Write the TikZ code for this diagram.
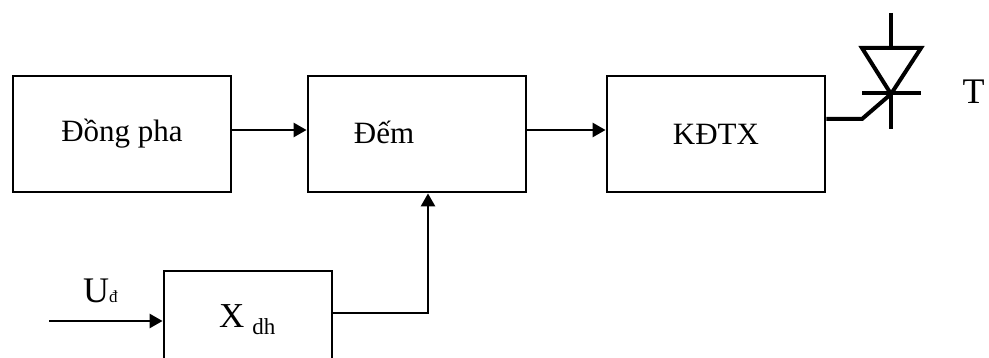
\documentclass[tikz,border=0pt]{standalone}
\usepackage{fontspec}
\setmainfont{Liberation Serif}
\usetikzlibrary{arrows.meta,calc}
\begin{document}
\begin{tikzpicture}[x=1pt,y=-1pt,
  blk/.style={draw,line width=2.8pt,minimum width=218pt,minimum height=116pt,inner sep=0pt,font=\fontsize{31}{36}\selectfont},
  conn/.style={line width=2.6pt,-{Triangle[length=13pt,width=14pt]}},
  thy/.style={line width=4pt},
  lbl/.style={inner sep=0pt,font=\fontsize{31}{36}\selectfont}]
\useasboundingbox (0,0) rectangle (989,358);
\clip (0,0) rectangle (989,358);
\node[blk] (dong) at (122,134) {Đồng pha};
\node[blk] (dem) at (417,134) {};
\node[lbl] (demtxt) at (384,132) {Đếm};
\node[blk] (kdtx) at (716,134) {KĐTX};
\node[blk, minimum width=168pt, minimum height=95pt] (xdh) at (248,318.5) {};
\node[lbl, anchor=base west, font=\fontsize{35}{40}\selectfont] (xtxt) at (219,328) {X\hspace{8pt}\raisebox{-6pt}{\fontsize{23}{26}\selectfont dh}};
\node[lbl, anchor=base west, font=\fontsize{36}{40}\selectfont] (ulbl) at (83,303) {U\fontsize{17}{20}\selectfont đ};
\coordinate (uin) at (49,321);
\coordinate (demin) at ([xshift=11pt]dem.south);
\draw[conn] ([yshift=4pt]dong.east) -- ([yshift=4pt]dem.west);
\draw[conn] ([yshift=4pt]dem.east) -- ([yshift=4pt]kdtx.west);
\draw[conn] (uin) -- (uin -| xdh.west);
\draw[conn] ([yshift=5.5pt]xdh.east) -| (demin);
% thyristor
\coordinate (A) at (891,13);
\coordinate (Atop) at (891,48);
\coordinate (K) at (891,94);
\coordinate (Kend) at (891,129);
\coordinate (TL) at (862,48);
\coordinate (TR) at (921,48);
\coordinate (BL) at (862,93);
\coordinate (BR) at (921,93);
\coordinate (G) at (862,119);
\draw[thy] (A) -- (Atop);
\draw[thy] (TL) -- (TR) -- (K) -- cycle;
\draw[thy] (BL) -- (BR);
\draw[thy] (K) -- (Kend);
\draw[thy] (K) -- (G) -- (G -| kdtx.east);
\node[lbl, font=\fontsize{36}{40}\selectfont] (T) at (973.5,92) {T};
\end{tikzpicture}
\end{document}
